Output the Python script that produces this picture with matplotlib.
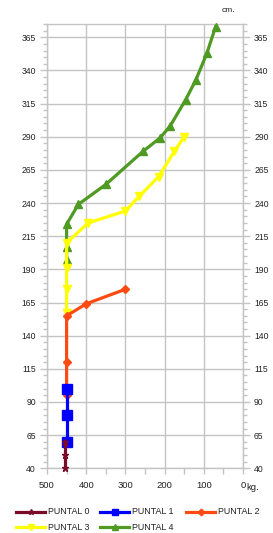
import matplotlib
matplotlib.use("Agg")
import matplotlib.pyplot as plt
from matplotlib.ticker import MultipleLocator, FixedLocator
from matplotlib.lines import Line2D

plt.rcParams['font.family'] = ['Liberation Sans', 'DejaVu Sans']

series_names = ["PUNTAL 0", "PUNTAL 1", "PUNTAL 2", "PUNTAL 3", "PUNTAL 4"]
p0_kg = [455, 455, 455]
p0_cm = [40, 50, 60]
p1_kg = [450, 450, 450]
p1_cm = [60, 80, 100]
p2_kg = [450, 450, 450, 400, 300]
p2_cm = [95, 120, 155, 164, 175]
p3_kg = [450, 450, 450, 450, 395, 300, 265, 215, 175, 150]
p3_cm = [157, 175, 191, 210, 225, 234, 245, 260, 279, 290]
p4_kg = [450, 450, 450, 420, 350, 255, 212, 186, 146, 120, 92, 70]
p4_cm = [197, 207, 224, 239, 254, 279, 289, 298, 318, 333, 353, 373]
x_ticks = [500, 400, 300, 200, 100, 0]
x_labels = ["500", "400", "300", "200", "100", "0"]
y_ticks = [40, 65, 90, 115, 140, 165, 190, 215, 240, 265, 290, 315, 340, 365]

colors = ["#7b0a2a", "#0000ff", "#ff4a12", "#ffff00", "#4e9a22"]
markers = ["*", "s", "D", "v", "^"]
msizes = [5, 6.5, 4.5, 6, 6]

W, H = 273, 533
fig = plt.figure(figsize=(W / 100, H / 100), dpi=100)
ax = fig.add_axes([47/W, 1 - 468.3/H, (243-47)/W, (468.3-24)/H])

data = [(p0_kg, p0_cm), (p1_kg, p1_cm), (p2_kg, p2_cm), (p3_kg, p3_cm), (p4_kg, p4_cm)]
for i, (xs, ys) in enumerate(data):
    ax.plot(xs, ys, color=colors[i], lw=2.3, marker=markers[i], ms=msizes[i],
            mec=colors[i], mfc=colors[i], zorder=10 - i, clip_on=False)

ax.set_xlim(500, 0)
ax.set_ylim(40, 375)
grid_c = "#c4c4c4"
ax.xaxis.set_major_locator(FixedLocator(x_ticks))
ax.set_xticklabels(x_labels)
ax.xaxis.set_minor_locator(MultipleLocator(50))
ax.yaxis.set_major_locator(FixedLocator(y_ticks))
ax.yaxis.set_minor_locator(MultipleLocator(5))
ax.grid(True, which="major", color=grid_c, lw=1.0)
ax.set_axisbelow(True)
for s in ax.spines.values():
    s.set_color(grid_c)
    s.set_linewidth(1.0)
ax.tick_params(axis="both", which="both", colors=grid_c, labelcolor="#222222",
               direction="out", width=1.0)
ax.tick_params(axis="y", which="major", length=5, left=True, right=True,
               labelleft=True, labelright=True, pad=3, labelsize=6.2)
ax.tick_params(axis="y", which="minor", length=3, left=True, right=True)
ax.tick_params(axis="x", which="major", length=4, pad=5, labelsize=6.8)
ax.tick_params(axis="x", which="minor", length=4)

fig.text(222/W, 1 - 11/H, "cm.", fontsize=6.0, color="#222222", ha="left", va="center")
fig.text(246/W, 1 - 488/H, "kg.", fontsize=6.8, color="#222222", ha="left", va="center")

# legend entries laid out like the reference (two rows, three columns)
leg_pos = [(16, 512), (100, 512), (186, 512), (16, 527), (100, 527)]
for i, (lx, ly) in enumerate(leg_pos):
    yf = 1 - ly / H
    fig.add_artist(Line2D([lx / W, (lx + 29) / W], [yf, yf], transform=fig.transFigure,
                          color=colors[i], lw=2.3))
    fig.add_artist(Line2D([(lx + 14.5) / W], [yf], transform=fig.transFigure,
                          color=colors[i], marker=markers[i], ms=msizes[i] * 0.75,
                          mec=colors[i], mfc=colors[i], lw=0))
    fig.text((lx + 32) / W, yf, series_names[i], fontsize=6.4, color="#222222",
             ha="left", va="center")

fig.savefig("out.png", dpi=100)
